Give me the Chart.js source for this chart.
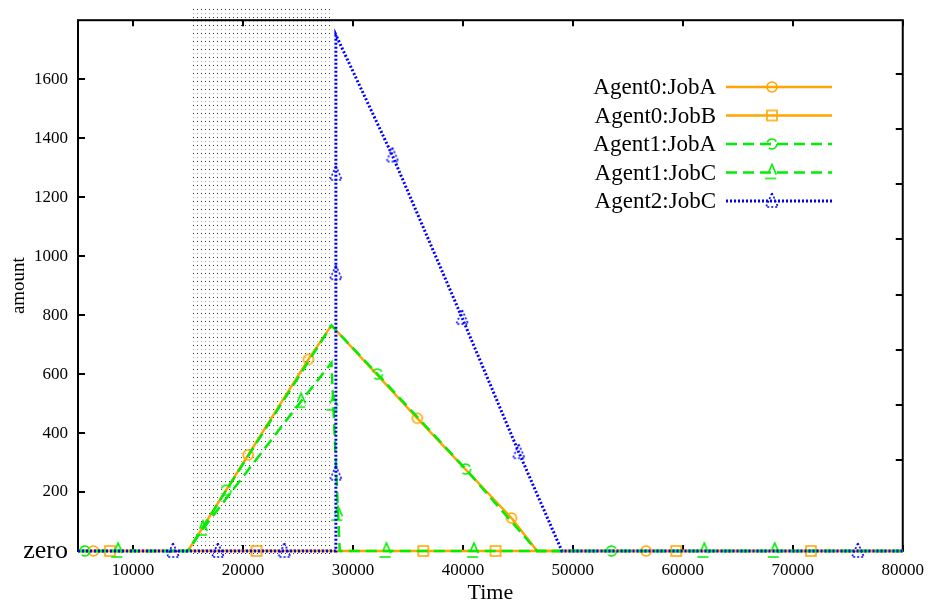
<!DOCTYPE html>
<html>
<head>
<meta charset="utf-8">
<script src="https://cdn.jsdelivr.net/npm/chart.js@4/dist/chart.umd.min.js"></script>
<style>
  html, body { margin: 0; padding: 0; background: #fff; }
  #wrap { width: 933px; height: 608px; position: relative; }
</style>
</head>
<body>
<div id="wrap"><canvas id="c"></canvas></div>
<script>
// ── axes ──
const xTicks  = [10000, 20000, 30000, 40000, 50000, 60000, 70000, 80000];
const yTicks  = [0, 200, 400, 600, 800, 1000, 1200, 1400, 1600];
const y2Ticks = [1, 2, 3, 4, 5, 6, 7, 8];   // unlabelled ticks on the right border
const shadeSpan = [15300, 28100];            // dotted background band

// ── series (time, amount, indices that carry a marker) ──
const labels = ["Agent0:JobA", "Agent0:JobB", "Agent1:JobA", "Agent1:JobC", "Agent2:JobC"];

const a0A_time = [5000, 6400, 15000, 20480, 25950, 28050, 35860, 44420, 46750, 56660, 80000];
const a0A_val  = [0, 0, 0, 326, 650, 765, 450, 112, 0, 0, 0];
const a0A_mark = [1, 3, 4, 6, 7, 9];

const a0B_time = [5000, 7900, 21230, 36400, 42970, 59400, 71650, 80000];
const a0B_val  = [0, 0, 0, 0, 0, 0, 0, 0];
const a0B_mark = [1, 2, 3, 4, 5, 6];

const a1A_time = [5000, 5630, 15000, 18480, 28050, 32230, 40250, 46750, 53520, 80000];
const a1A_val  = [0, 0, 0, 206, 765, 600, 278, 0, 0, 0];
const a1A_mark = [1, 3, 5, 6, 8];

const a1C_time = [5000, 8650, 15000, 16360, 25290, 28050, 28213, 28653, 28800, 33050, 41000, 61950, 68360, 80000];
const a1C_val  = [0, 0, 0, 75, 508, 638, 499, 125, 0, 0, 0, 0, 0, 0];
const a1C_mark = [1, 3, 4, 6, 7, 9, 10, 11, 12];

const a2C_time = [5000, 13640, 17720, 23770, 28450, 28450, 28450, 28450, 28450, 33590, 39940, 45080, 49000, 75920, 80000];
const a2C_val  = [0, 0, 0, 0, 0, 262, 942, 1279, 1750, 1341, 790, 335, 0, 0, 0];
const a2C_mark = [1, 2, 3, 5, 6, 7, 9, 10, 11, 13];

const SERIF = '"Liberation Serif", "DejaVu Serif", "Times New Roman", serif';
const ORANGE = "#FFA500", GREEN = "#00EE00", BLUE = "#0000FF";
const DASH = [11, 6], DOT = [2, 2];

// gnuplot-style open markers, stroked with the series' own dash
function markerCanvas(shape, color, dash) {
  const c = document.createElement("canvas");
  c.width = 20; c.height = 20;
  const g = c.getContext("2d");
  g.strokeStyle = color; g.lineWidth = 1.6; g.setLineDash(dash);
  g.beginPath();
  if (shape === "circle") g.arc(10, 10, 5, 0, Math.PI * 2);
  else if (shape === "square") g.rect(5, 5, 10, 10);
  else { g.moveTo(10, 2); g.lineTo(16, 16); g.lineTo(4, 16); g.closePath(); }
  g.stroke();
  return c;
}

// dotted fill tile for the band
const dotTile = document.createElement("canvas");
dotTile.width = 4; dotTile.height = 8;
(function () {
  const g = dotTile.getContext("2d");
  g.fillStyle = "#333"; g.fillRect(1, 1, 1, 1);
  g.fillStyle = "#aaa"; g.fillRect(1, 5, 1, 1);
})();

const series = [
  { t: a0A_time, v: a0A_val, m: a0A_mark, color: ORANGE, dash: [],   shape: "circle",   w: 2.5 },
  { t: a0B_time, v: a0B_val, m: a0B_mark, color: ORANGE, dash: [],   shape: "square",   w: 2.5 },
  { t: a1A_time, v: a1A_val, m: a1A_mark, color: GREEN,  dash: DASH, shape: "circle",   w: 2.5 },
  { t: a1C_time, v: a1C_val, m: a1C_mark, color: GREEN,  dash: DASH, shape: "triangle", w: 2.5 },
  { t: a2C_time, v: a2C_val, m: a2C_mark, color: BLUE,   dash: DOT,  shape: "triangle", w: 3 },
];
series.forEach(s => { s.icon = markerCanvas(s.shape, s.color, s.dash); });

const datasets = series.map((s, i) => ({
  label: labels[i],
  data: s.t.map((t, k) => ({ x: t, y: s.v[k] })),
  borderColor: s.color,
  borderWidth: s.w,
  borderDash: s.dash,
  borderCapStyle: "butt",
  tension: 0,
  fill: false,
  clip: 12,
  order: series.length - i,          // later series drawn on top
  pointStyle: s.icon,
  pointRadius: ctx => s.m.includes(ctx.dataIndex) ? 6 : 0,
  pointHoverRadius: 0,
}));

// ── frame, ticks, band and legend, gnuplot-like ──
const gnuplotDecor = {
  id: "gnuplotDecor",
  beforeDatasetsDraw(chart) {
    const { ctx, chartArea: a, scales: { x, y, y2 } } = chart;
    const x0 = x.getPixelForValue(shadeSpan[0]);
    const x1 = x.getPixelForValue(shadeSpan[1]);
    ctx.save();
    ctx.fillStyle = ctx.createPattern(dotTile, "repeat");
    ctx.fillRect(x0, a.top - 12, x1 - x0, a.bottom - a.top + 18);

    ctx.strokeStyle = "#000"; ctx.lineWidth = 2;
    ctx.strokeRect(a.left, a.top, a.right - a.left, a.bottom - a.top);
    ctx.beginPath();
    xTicks.forEach(v => {
      const px = Math.round(x.getPixelForValue(v));
      ctx.moveTo(px, a.bottom); ctx.lineTo(px, a.bottom - 6);
      ctx.moveTo(px, a.top);    ctx.lineTo(px, a.top + 6);
    });
    yTicks.forEach(v => {
      const py = Math.round(y.getPixelForValue(v));
      ctx.moveTo(a.left, py); ctx.lineTo(a.left + 7, py);
    });
    y2Ticks.forEach(v => {
      const py = Math.round(y2.getPixelForValue(v));
      ctx.moveTo(a.right, py); ctx.lineTo(a.right - 7, py);
    });
    ctx.stroke();
    ctx.restore();
  },
  afterDraw(chart) {
    const { ctx } = chart;
    ctx.save();
    ctx.font = "23px " + SERIF;
    ctx.textAlign = "right";
    ctx.textBaseline = "middle";
    series.forEach((s, i) => {
      const yy = 87 + i * 28.5;
      ctx.fillStyle = "#000";
      ctx.fillText(labels[i], 716, yy + 1);
      ctx.strokeStyle = s.color; ctx.lineWidth = s.w; ctx.setLineDash(s.dash);
      ctx.beginPath(); ctx.moveTo(726, yy); ctx.lineTo(832, yy); ctx.stroke();
      ctx.drawImage(s.icon, 772 - 10, yy - 10);
    });
    ctx.restore();
  }
};

Chart.defaults.color = "#000";
Chart.defaults.font.family = SERIF;

new Chart(document.getElementById("c"), {
  type: "line",
  data: { datasets },
  options: {
    responsive: true, maintainAspectRatio: false, animation: false,
    layout: { padding: { top: 17, right: 28, left: 0, bottom: 0 } },
    plugins: { legend: { display: false }, tooltip: { enabled: false } },
    scales: {
      x: {
        type: "linear", min: 5000, max: 80000,
        afterBuildTicks: sc => { sc.ticks = xTicks.map(v => ({ value: v })); },
        afterFit: sc => { sc.height = 57; },
        grid: { display: false, drawTicks: false },
        border: { display: false },
        ticks: { font: { size: 17 }, padding: 9, maxRotation: 0, callback: v => String(v) },
        title: { display: true, text: "Time", font: { size: 22 }, padding: { top: 0, bottom: 2 } }
      },
      y: {
        type: "linear", min: 0, max: 1800,
        afterBuildTicks: sc => { sc.ticks = yTicks.map(v => ({ value: v })); },
        afterFit: sc => { sc.width = 78; },
        grid: { display: false, drawTicks: false },
        border: { display: false },
        ticks: {
          padding: 10,
          font: c => (c.tick && c.tick.value === 0) ? { size: 26 } : { size: 17 },
          callback: v => v === 0 ? "zero" : String(v)
        },
        title: { display: true, text: "amount", font: { size: 19 }, padding: { top: 8, bottom: 4 } }
      },
      y2: {
        type: "linear", position: "right", display: false, min: -0.64, max: 8.97,
        afterBuildTicks: sc => { sc.ticks = y2Ticks.map(v => ({ value: v })); }
      }
    }
  },
  plugins: [gnuplotDecor]
});
</script>
</body>
</html>
